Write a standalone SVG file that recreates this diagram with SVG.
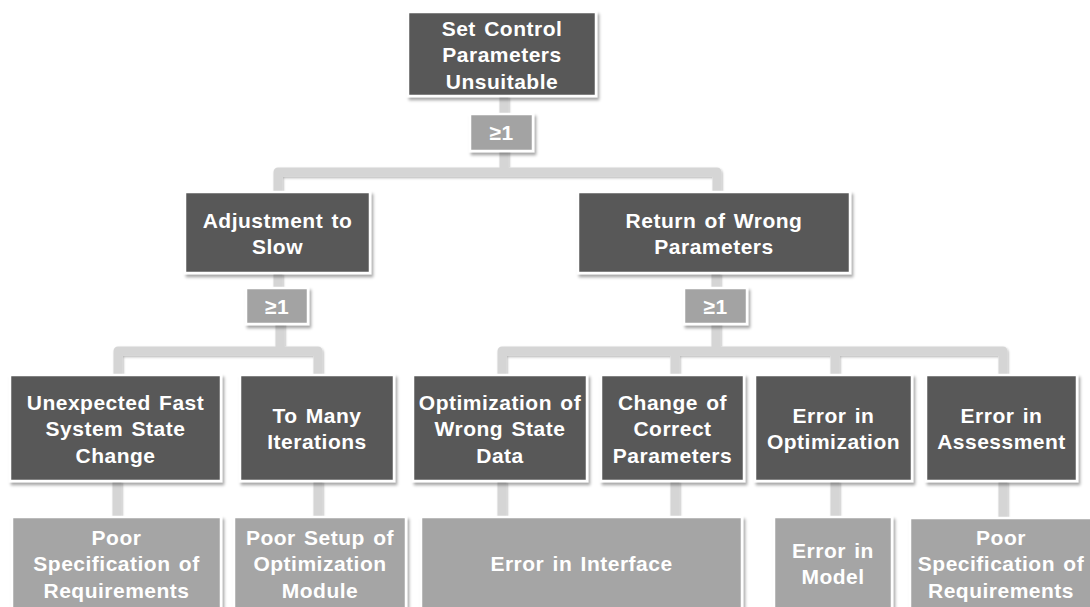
<svg xmlns="http://www.w3.org/2000/svg" width="1090" height="607" viewBox="0 0 1090 607">
  <defs>
    <filter id="shadow" filterUnits="userSpaceOnUse" x="0" y="0" width="1090" height="607">
      <feDropShadow dx="2" dy="3" stdDeviation="1.8" flood-color="#000" flood-opacity="0.35"/>
    </filter>
    <filter id="lineShadow" filterUnits="userSpaceOnUse" x="0" y="0" width="1090" height="607">
      <feDropShadow dx="1" dy="1.5" stdDeviation="0.8" flood-color="#000" flood-opacity="0.3"/>
    </filter>
    <style>
      .event { fill: #595959; stroke: #ffffff; stroke-width: 2.5; filter: url(#shadow); }
      .basic { fill: #a5a5a5; stroke: #ffffff; stroke-width: 2.5; filter: url(#shadow); }
      .gate  { fill: #a3a3a3; stroke: #ffffff; stroke-width: 2.5; filter: url(#shadow); }
      .label { font-family: "Liberation Sans", Arial, sans-serif; font-weight: bold; font-size: 21px;
               fill: #ffffff; text-anchor: middle; letter-spacing: 0.5px; word-spacing: 2px; }
      .wire  { fill: none; stroke: #d5d5d5; stroke-width: 9; stroke-linejoin: round; }
    </style>
  </defs>
  <rect width="1090" height="607" fill="#ffffff"/>

  <!-- connectors -->
  <g id="connectors" filter="url(#lineShadow)">
    <path class="wire" d="M504 96 V116"/>
    <path class="wire" d="M504 149 V172"/>
    <path class="wire" d="M278 194 V172 H717 V194"/>

    <path class="wire" d="M278 273 V290"/>
    <path class="wire" d="M280 322 V351"/>
    <path class="wire" d="M118 374 V351 H318 V374"/>

    <path class="wire" d="M716 273 V290"/>
    <path class="wire" d="M716 322 V351"/>
    <path class="wire" d="M502 374 V351 H1003 V374"/>
    <path class="wire" d="M675 351 V374"/>
    <path class="wire" d="M835 351 V374"/>

    <path class="wire" d="M117 481 V518"/>
    <path class="wire" d="M318 481 V518"/>
    <path class="wire" d="M502 481 V518"/>
    <path class="wire" d="M675 481 V518"/>
    <path class="wire" d="M835 481 V518"/>
    <path class="wire" d="M1003 481 V518"/>
  </g>

  <!-- top event -->
  <g id="top-event">
    <rect class="event" x="408" y="12" width="188" height="84"/>
    <text class="label" x="502" y="35.5">Set Control</text>
    <text class="label" x="502" y="62">Parameters</text>
    <text class="label" x="502" y="88.5">Unsuitable</text>
  </g>

  <g id="gate-top">
    <rect class="gate" x="470" y="114" width="63" height="37"/>
    <text class="label" x="501.5" y="140">≥1</text>
  </g>

  <!-- second level -->
  <g id="adjustment-slow">
    <rect class="event" x="185" y="192" width="185" height="81"/>
    <text class="label" x="277.5" y="227.5">Adjustment to</text>
    <text class="label" x="277.5" y="254">Slow</text>
  </g>

  <g id="return-wrong">
    <rect class="event" x="578" y="192" width="272" height="81"/>
    <text class="label" x="714" y="227.5">Return of Wrong</text>
    <text class="label" x="714" y="254">Parameters</text>
  </g>

  <g id="gate-left">
    <rect class="gate" x="246" y="288" width="62" height="36"/>
    <text class="label" x="277" y="313.5">≥1</text>
  </g>

  <g id="gate-right">
    <rect class="gate" x="684" y="288" width="63" height="36"/>
    <text class="label" x="715.5" y="313.5">≥1</text>
  </g>

  <!-- third level -->
  <g id="fast-change">
    <rect class="event" x="10" y="375" width="211" height="106"/>
    <text class="label" x="115.5" y="409.5">Unexpected Fast</text>
    <text class="label" x="115.5" y="436">System State</text>
    <text class="label" x="115.5" y="462.5">Change</text>
  </g>

  <g id="many-iterations">
    <rect class="event" x="240" y="375" width="154" height="106"/>
    <text class="label" x="317" y="422.5">To Many</text>
    <text class="label" x="317" y="449">Iterations</text>
  </g>

  <g id="wrong-state-data">
    <rect class="event" x="413" y="375" width="174" height="106"/>
    <text class="label" x="500" y="409.5">Optimization of</text>
    <text class="label" x="500" y="436">Wrong State</text>
    <text class="label" x="500" y="462.5">Data</text>
  </g>

  <g id="correct-parameters">
    <rect class="event" x="601" y="375" width="143" height="106"/>
    <text class="label" x="672.5" y="409.5">Change of</text>
    <text class="label" x="672.5" y="436">Correct</text>
    <text class="label" x="672.5" y="462.5">Parameters</text>
  </g>

  <g id="error-optimization">
    <rect class="event" x="755" y="375" width="157" height="106"/>
    <text class="label" x="833.5" y="422.5">Error in</text>
    <text class="label" x="833.5" y="449">Optimization</text>
  </g>

  <g id="error-assessment">
    <rect class="event" x="926" y="375" width="151" height="106"/>
    <text class="label" x="1001.5" y="422.5">Error in</text>
    <text class="label" x="1001.5" y="449">Assessment</text>
  </g>

  <!-- basic causes -->
  <g id="poor-spec-left">
    <rect class="basic" x="12" y="517" width="209" height="110"/>
    <text class="label" x="116.5" y="544.5">Poor</text>
    <text class="label" x="116.5" y="571">Specification of</text>
    <text class="label" x="116.5" y="597.5">Requirements</text>
  </g>

  <g id="poor-setup">
    <rect class="basic" x="234" y="517" width="172" height="110"/>
    <text class="label" x="320" y="544.5">Poor Setup of</text>
    <text class="label" x="320" y="571">Optimization</text>
    <text class="label" x="320" y="597.5">Module</text>
  </g>

  <g id="error-interface">
    <rect class="basic" x="421" y="517" width="321" height="110"/>
    <text class="label" x="581.5" y="571">Error in Interface</text>
  </g>

  <g id="error-model">
    <rect class="basic" x="774" y="517" width="118" height="110"/>
    <text class="label" x="833" y="557.5">Error in</text>
    <text class="label" x="833" y="584">Model</text>
  </g>

  <g id="poor-spec-right">
    <rect class="basic" x="910" y="518" width="190" height="110"/>
    <text class="label" x="1001" y="544.5">Poor</text>
    <text class="label" x="1001" y="571">Specification of</text>
    <text class="label" x="1001" y="597.5">Requirements</text>
  </g>
</svg>
